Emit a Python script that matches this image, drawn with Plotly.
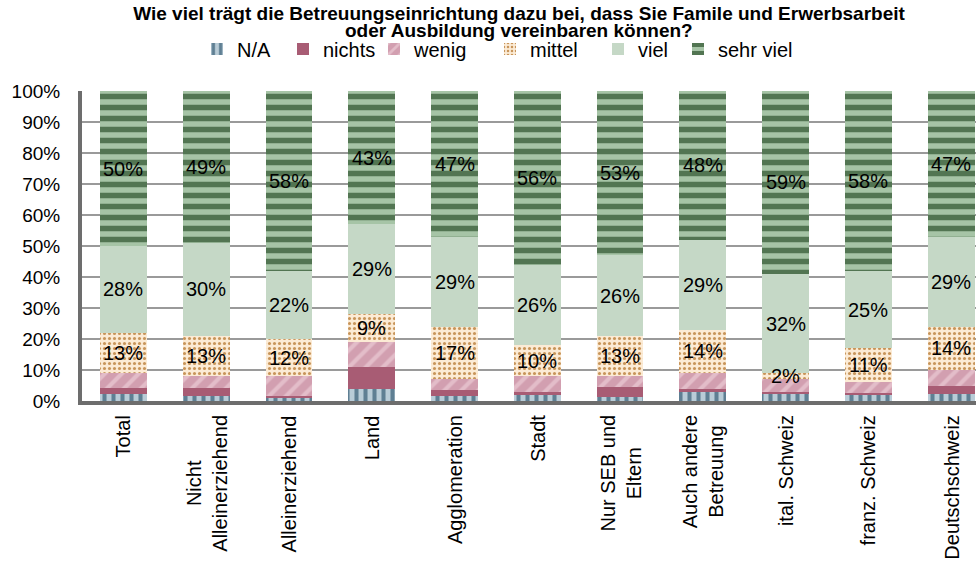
import plotly.graph_objects as go

# Survey groups shown along the x axis
categories = [
    "Total", "Nicht<br>Alleinerziehend", "Alleinerziehend", "Land",
    "Agglomeration", "Stadt", "Nur SEB und<br>Eltern", "Auch andere<br>Betreuung",
    "ital. Schweiz", "franz. Schweiz", "Deutschschweiz",
]

# Answer shares in percent per group
na_vals       = [2.2, 1.6, 1.2, 3.9, 1.6, 1.9, 1.2, 2.9, 2.3, 1.9, 2.3]
nichts_vals   = [2.1, 2.5, 0.3, 7.0, 1.9, 1.1, 3.2, 0.9, 0.5, 0.7, 2.5]
wenig_vals    = [4.7, 3.9, 6.5, 8.1, 3.5, 5.0, 3.6, 5.2, 4.2, 3.4, 5.2]
mittel_vals   = [13, 13, 12, 9, 17, 10, 13, 14, 2, 11, 14]
viel_vals     = [28, 30, 22, 29, 29, 26, 26, 29, 32, 25, 29]
sehrviel_vals = [50, 49, 58, 43, 47, 56, 53, 48, 59, 58, 47]

y_ticks = [0, 10, 20, 30, 40, 50, 60, 70, 80, 90, 100]
y_tick_labels = [f"{t}%" for t in y_ticks]

title_lines = [
    "Wie viel trägt die Betreuungseinrichtung dazu bei, dass Sie Famile und Erwerbsarbeit",
    "oder Ausbildung vereinbaren können?",
]

FONT = "Liberation Sans, Arial, sans-serif"
W, H = 976, 562
PLOT_L, PLOT_T, PLOT_B = 82, 91, 401

# name, values, marker style, whether segment values are printed, legend text start (px)
series = [
    ("N/A", na_vals, dict(color="#b9ccd7",
                          pattern=dict(shape="|", fgcolor="#5f7f93", bgcolor="#b9ccd7",
                                       size=9, solidity=0.45, fillmode="replace")), False, 233),
    ("nichts", nichts_vals, dict(color="#a85c74"), False, 319),
    ("wenig", wenig_vals, dict(color="#d29fb0",
                               pattern=dict(shape="/", fgcolor="#e3bdc9", bgcolor="#d29fb0",
                                            size=12, solidity=0.35, fillmode="replace")), False, 410),
    ("mittel", mittel_vals, dict(color="#fcebd5",
                                 pattern=dict(shape=".", fgcolor="#c8955a", bgcolor="#fcebd5",
                                              size=5, solidity=0.3, fillmode="replace")), True, 526),
    ("viel", viel_vals, dict(color="#c5d8c6"), True, 634),
    ("sehr viel", sehrviel_vals, dict(color="#a6c4a6",
                                      pattern=dict(shape="-", fgcolor="#527552", bgcolor="#a6c4a6",
                                                   size=11, solidity=0.5, fillmode="replace")), True, 714),
]

fig = go.Figure()
annotations = []
legends = {}
base = [0.0] * len(categories)
for i, (name, vals, marker, labelled, text_x) in enumerate(series):
    key = "legend" if i == 0 else f"legend{i + 1}"
    fig.add_trace(go.Bar(
        name=name,
        x=categories,
        y=vals,
        marker=dict(marker, line=dict(width=0)),
        hoverinfo="skip",
        legend=key,
        showlegend=True,
    ))
    # one small legend per series so each entry sits at its own spot
    legends[key] = dict(
        orientation="h",
        x=(text_x + 4 - 40) / W, xanchor="left", xref="container",
        y=1 - 49 / H, yanchor="middle", yref="container",
        font=dict(family=FONT, size=20, color="black"),
        itemwidth=30,
        bgcolor="rgba(0,0,0,0)",
    )
    if labelled:
        # value label centred in its stacked segment, drawn above all bars
        for cat, b, v in zip(categories, base, vals):
            annotations.append(dict(
                x=cat, y=b + v / 2, xref="x", yref="y",
                text=f"{round(v)}%", showarrow=False,
                font=dict(family=FONT, size=20, color="black"),
                xanchor="center", yanchor="middle",
            ))
    base = [b + v for b, v in zip(base, vals)]

# category labels, rotated, lines centred on each other
for cat in categories:
    annotations.append(dict(
        x=cat, y=0, xref="x", yref="paper",
        text=cat, showarrow=False, textangle=-90,
        font=dict(family=FONT, size=20, color="black"),
        xanchor="center", yanchor="top", align="center",
        yshift=-12,
    ))

# second title line, placed in paper units just under the first one
plot_w = W - PLOT_L
plot_h = PLOT_B - PLOT_T
annotations.append(dict(
    text=f"<b>{title_lines[1]}</b>", showarrow=False,
    x=(519 - PLOT_L) / plot_w, y=(PLOT_B - 31) / plot_h,
    xref="paper", yref="paper",
    xanchor="center", yanchor="middle",
    font=dict(family=FONT, size=19, color="black"),
))

fig.update_layout(
    width=W,
    height=H,
    barmode="stack",
    bargap=0.435,
    plot_bgcolor="white",
    paper_bgcolor="white",
    margin=dict(l=PLOT_L, r=0, t=PLOT_T, b=H - PLOT_B),
    showlegend=True,
    title=dict(
        text=f"<b>{title_lines[0]}</b>",
        font=dict(family=FONT, size=19, color="black"),
        x=519 / W, xanchor="center", xref="container",
        y=1 - 13 / H, yanchor="middle", yref="container",
    ),
    font=dict(family=FONT, color="black"),
    annotations=annotations,
    **legends,
)

fig.update_xaxes(
    type="category",
    range=[-0.5, 10.3],
    showticklabels=False,
    showline=True, linewidth=4, linecolor="#6d6d6d",
    showgrid=False,
    ticks="",
)

fig.update_yaxes(
    range=[0, 100],
    tickvals=y_ticks,
    ticktext=y_tick_labels,
    tickfont=dict(family=FONT, size=19, color="black"),
    showline=True, linewidth=4, linecolor="#6d6d6d",
    showgrid=True, gridcolor="#9a9a9a", gridwidth=1.5,
    zeroline=False,
    ticks="",
    ticklabelstandoff=14,
)

fig.write_html("out.html")
